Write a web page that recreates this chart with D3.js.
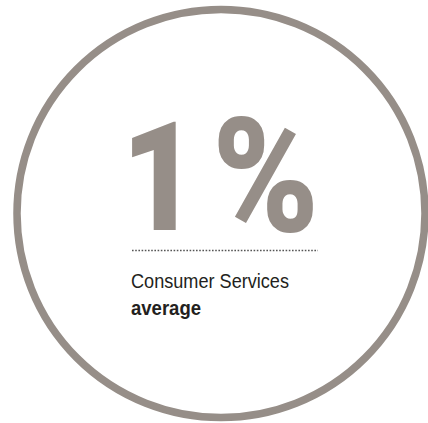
<!DOCTYPE html>
<html>
<head>
<meta charset="utf-8">
<script src="https://cdn.jsdelivr.net/npm/d3@7"></script>
<style>
  html, body { margin: 0; padding: 0; background: #fff; }
</style>
</head>
<body>
<div id="wrapper"></div>
<script>
// single-stat figure
const statValues = [1]
const statUnits = ["%"]
const labelLines = ["Consumer Services", "average"]
const labelWeights = ["normal", "bold"]

// measure the ink of a string so it can be fitted into a box
const ctx = document.createElement("canvas").getContext("2d")
function ink(str, font) {
  ctx.font = font
  const m = ctx.measureText(str)
  return {
    left: -m.actualBoundingBoxLeft,
    right: m.actualBoundingBoxRight,
    top: -m.actualBoundingBoxAscent,
    bottom: m.actualBoundingBoxDescent,
  }
}

function drawStat() {
  let dimensions = {
    width: 428,
    height: 423,
  }

  const wrapper = d3.select("#wrapper")
    .append("svg")
    .attr("width", dimensions.width)
    .attr("height", dimensions.height)

  const ringColor = "#968e88"

  // radius from a linear scale on the picture size
  const rScale = d3.scaleLinear()
    .domain([0, 1])
    .range([0, 204])

  wrapper.append("circle")
    .attr("cx", 221)
    .attr("cy", 213.5)
    .attr("r", rScale(1))
    .attr("fill", "none")
    .attr("stroke", ringColor)
    .attr("stroke-width", 7.5)

  // big number: value and unit fitted separately
  const bigFamily = "Roboto, 'Liberation Sans', sans-serif"
  const bigFont = `900 100px ${bigFamily}`
  const pieces = [
    { str: d3.format("d")(statValues[0]), box: [132, 176, 121, 230] },
    { str: statUnits[0], box: [218, 313, 117, 233] },
  ]

  pieces.forEach(p => {
    const b = ink(p.str, bigFont)
    const sx = (p.box[1] - p.box[0]) / (b.right - b.left)
    const sy = (p.box[3] - p.box[2]) / (b.bottom - b.top)
    wrapper.append("text")
      .attr("transform", `translate(${p.box[0] - b.left * sx},${p.box[2] - b.top * sy}) scale(${sx},${sy})`)
      .attr("fill", ringColor)
      .style("font-family", bigFamily)
      .style("font-weight", "900")
      .style("font-size", "100px")
      .text(p.str)
  })

  wrapper.append("line")
    .attr("x1", 132)
    .attr("x2", 318)
    .attr("y1", 250.5)
    .attr("y2", 250.5)
    .attr("stroke", "#555")
    .attr("stroke-width", 1.6)
    .attr("stroke-dasharray", "1.6,1.6")

  const font = "'Liberation Sans', Arial, sans-serif"
  const labelWidths = [158, 70]

  wrapper.selectAll(".label")
    .data(labelLines)
    .join("text")
    .attr("class", "label")
    .attr("x", 131)
    .attr("y", (d, i) => 288 + i * 27)
    .attr("fill", "#231f20")
    .style("font-family", font)
    .style("font-weight", (d, i) => labelWeights[i])
    .style("font-size", "21px")
    .attr("textLength", (d, i) => labelWidths[i])
    .attr("lengthAdjust", "spacingAndGlyphs")
    .text(d => d)
}
drawStat()
</script>
</body>
</html>
